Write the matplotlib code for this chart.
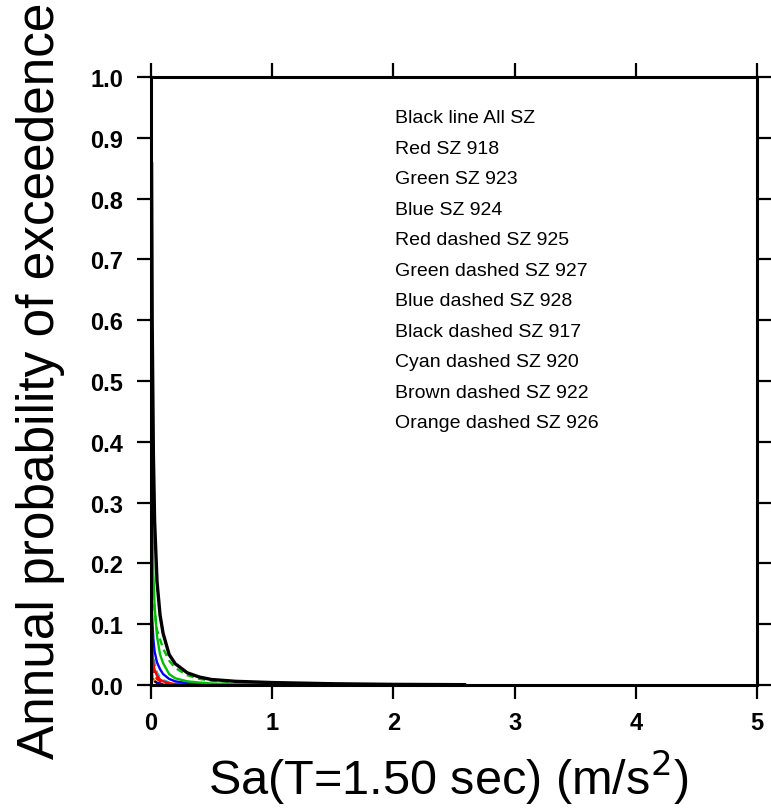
import numpy as np
import matplotlib
matplotlib.use("Agg")
import matplotlib.pyplot as plt

plt.rcParams['font.family'] = ['Liberation Sans', 'DejaVu Sans']

# Spectral acceleration grid (m/s^2) and annual exceedance probabilities per source zone
sa = [0.005, 0.01, 0.02, 0.03, 0.05, 0.075, 0.1, 0.15, 0.2, 0.3, 0.4, 0.5, 0.7, 1.0, 1.5, 2.0, 2.6]

all_sz = [0.86, 0.60, 0.38, 0.27, 0.17, 0.115, 0.085, 0.05, 0.035, 0.02, 0.013, 0.009, 0.006, 0.004, 0.002, 0.001, 0.0005]
sz918 = [0.08, 0.055, 0.035, 0.025, 0.015, 0.009, 0.006, 0.003, 0.0015, 0.0006, 0.0003, 0.0001, 0.0, 0.0, 0.0, 0.0, 0.0]
sz923 = [0.43, 0.30, 0.18, 0.13, 0.08, 0.05, 0.036, 0.018, 0.011, 0.006, 0.004, 0.0025, 0.0015, 0.0008, 0.0003, 0.0001, 0.0]
sz924 = [0.15, 0.11, 0.075, 0.055, 0.037, 0.026, 0.018, 0.01, 0.006, 0.003, 0.0018, 0.001, 0.0005, 0.0002, 0.0, 0.0, 0.0]
sz925 = [0.07, 0.045, 0.028, 0.019, 0.011, 0.007, 0.004, 0.002, 0.001, 0.0004, 0.0002, 0.0001, 0.0, 0.0, 0.0, 0.0, 0.0]
sz927 = [0.25, 0.20, 0.15, 0.12, 0.09, 0.075, 0.06, 0.04, 0.028, 0.016, 0.01, 0.007, 0.0045, 0.003, 0.0015, 0.0008, 0.0004]
sz928 = [0.02, 0.012, 0.007, 0.005, 0.003, 0.002, 0.0012, 0.0006, 0.0003, 0.0001, 0.0, 0.0, 0.0, 0.0, 0.0, 0.0, 0.0]
sz917 = [0.025, 0.015, 0.009, 0.006, 0.0035, 0.002, 0.0013, 0.0006, 0.0003, 0.0001, 0.0, 0.0, 0.0, 0.0, 0.0, 0.0, 0.0]
sz920 = [0.12, 0.08, 0.05, 0.035, 0.02, 0.012, 0.008, 0.004, 0.002, 0.0008, 0.0003, 0.0001, 0.0, 0.0, 0.0, 0.0, 0.0]
sz922 = [0.07, 0.045, 0.027, 0.018, 0.01, 0.006, 0.0035, 0.0015, 0.0007, 0.0002, 0.0001, 0.0, 0.0, 0.0, 0.0, 0.0, 0.0]
sz926 = [0.03, 0.018, 0.01, 0.007, 0.004, 0.0025, 0.0015, 0.0007, 0.0003, 0.0001, 0.0, 0.0, 0.0, 0.0, 0.0, 0.0, 0.0]

legend_lines = [
    "Black line All SZ",
    "Red SZ 918",
    "Green SZ 923",
    "Blue SZ 924",
    "Red dashed SZ 925",
    "Green dashed SZ 927",
    "Blue dashed SZ 928",
    "Black dashed SZ 917",
    "Cyan dashed SZ 920",
    "Brown dashed SZ 922",
    "Orange dashed SZ 926",
]

x_ticks = [0, 1, 2, 3, 4, 5]
y_ticks = [0.0, 0.1, 0.2, 0.3, 0.4, 0.5, 0.6, 0.7, 0.8, 0.9, 1.0]

fig = plt.figure(figsize=(7.71, 8.12), dpi=100)
ax = fig.add_axes([0.1958, 0.1552, 0.786, 0.7488])

dash = (0, (3, 2))
curves = [
    (sz926, "#ff8c00", dash),
    (sz922, "#8b4513", dash),
    (sz917, "black", dash),
    (sz928, "blue", dash),
    (sz925, "red", dash),
    (sz920, "#00c0d0", dash),
    (sz918, "red", "-"),
    (sz924, "blue", "-"),
    (sz923, "#00c000", "-"),
    (sz927, "#00c000", dash),
    (all_sz, "black", "-"),
]
for vals, col, ls in curves:
    lw = 2.4 if vals is all_sz else 1.7
    ax.plot(sa, vals, color=col, linestyle=ls, linewidth=lw, solid_capstyle="butt")

ax.set_xlim(0, 5)
ax.set_ylim(0, 1)
ax.set_xticks(x_ticks)
ax.set_yticks(y_ticks)
ax.set_xticklabels([str(t) for t in x_ticks])
ax.set_yticklabels([f"{t:.1f}" for t in y_ticks])

for s in ax.spines.values():
    s.set_linewidth(2.2)

ax.tick_params(axis="both", direction="out", length=10, width=1.6,
               labelsize=17, top=True, right=True)
ax.tick_params(axis="y", pad=10)
ax.tick_params(axis="x", pad=9)
for lbl in ax.get_xticklabels() + ax.get_yticklabels():
    lbl.set_fontweight("bold")

ax.set_ylabel("Annual probability of exceedence", fontsize=37)
ax.yaxis.set_label_coords(-0.142, 0.502)
ax.set_xlabel("Sa(T=1.50 sec) (m/s$^2$)", fontsize=35)
ax.xaxis.set_label_coords(0.49, -0.102)

for i, txt in enumerate(legend_lines):
    ax.text(0.4026, 0.933 - i * 0.0502, txt, transform=ax.transAxes,
            fontsize=14, va="center", ha="left")

fig.savefig("out.png", dpi=100)
